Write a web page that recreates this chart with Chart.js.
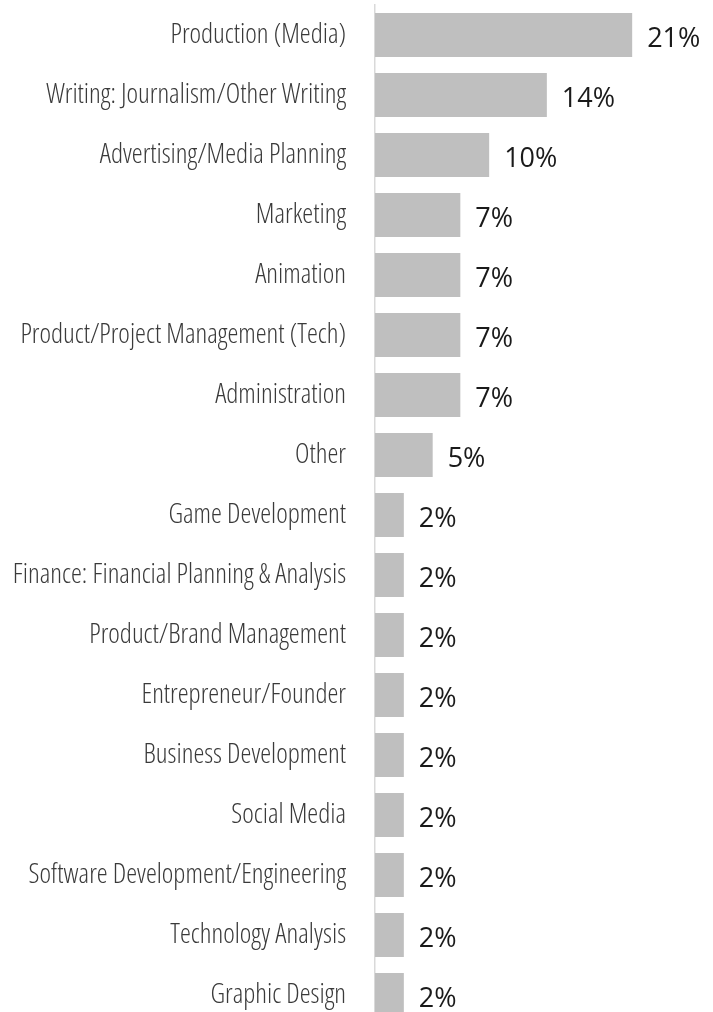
<!DOCTYPE html>
<html>
<head>
<meta charset="utf-8">
<script src="https://cdn.jsdelivr.net/npm/chart.js@4/dist/chart.umd.min.js"></script>
<style>
  html, body { margin: 0; padding: 0; background: #fff; overflow: hidden; }
  #wrap { position: relative; width: 713px; height: 1030px; }
</style>
</head>
<body>
<div id="wrap"><canvas id="chart"></canvas></div>
<script>
  const categorias = [
    "Production (Media)", "Writing: Journalism/Other Writing", "Advertising/Media Planning",
    "Marketing", "Animation", "Product/Project Management (Tech)", "Administration", "Other",
    "Game Development", "Finance: Financial Planning & Analysis", "Product/Brand Management",
    "Entrepreneur/Founder", "Business Development", "Social Media",
    "Software Development/Engineering", "Technology Analysis", "Graphic Design"
  ];

  const percentagens = [
    21.4, 14.3, 9.5, 7.1, 7.1, 7.1, 7.1, 4.8,
    2.4, 2.4, 2.4, 2.4, 2.4, 2.4, 2.4, 2.4, 2.4
  ];

  const corBarra = '#bfbfbf';

  // escreve o valor a seguir a cada barra
  const rotulosValor = {
    id: 'rotulosValor',
    afterDatasetsDraw(chart) {
      const ctx = chart.ctx;
      const meta = chart.getDatasetMeta(0);
      ctx.save();
      ctx.font = '27px "Open Sans"';
      ctx.fillStyle = '#1a1a1a';
      ctx.textAlign = 'left';
      ctx.textBaseline = 'middle';
      meta.data.forEach((bar, i) => {
        ctx.fillText(Math.round(percentagens[i]) + '%', bar.x + 15, bar.y + 4);
      });
      ctx.restore();
    }
  };

  new Chart(document.getElementById('chart'), {
    type: 'bar',
    data: {
      labels: categorias,
      datasets: [{
        data: percentagens,
        backgroundColor: corBarra,
        borderWidth: 0,
        categoryPercentage: 1,
        barPercentage: 0.733
      }]
    },
    options: {
      indexAxis: 'y',
      responsive: true,
      maintainAspectRatio: false,
      animation: false,
      layout: { padding: { top: 5, bottom: 5, left: 0, right: 1.5 } },
      plugins: { legend: { display: false }, tooltip: { enabled: false } },
      scales: {
        x: { display: false, min: 0, max: 28 },
        y: {
          afterFit: (s) => { s.width = 375; s.paddingTop = 0; s.paddingBottom = 0; },
          grid: { display: false, drawTicks: false },
          border: { display: true, color: '#d9d9d9', width: 1.5 },
          ticks: {
            padding: 29,
            color: '#3a3a3a',
            font: { family: '"Open Sans", "DejaVu Sans Condensed"', size: 27.5, weight: 'condensed 300' }
          }
        }
      }
    },
    plugins: [rotulosValor]
  });
</script>
</body>
</html>
